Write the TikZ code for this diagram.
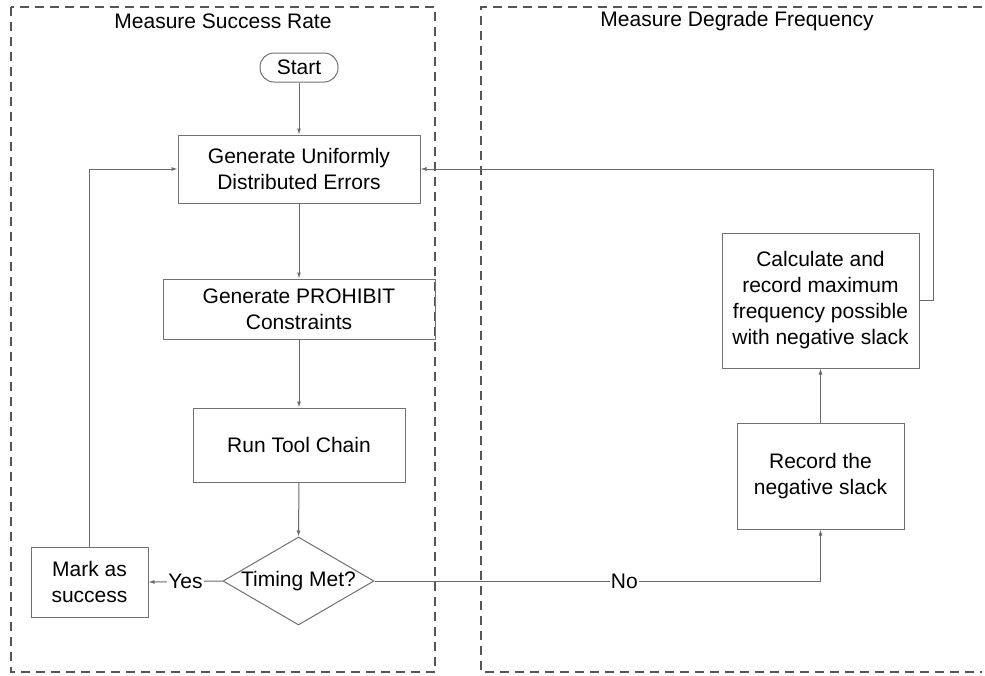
\documentclass[tikz,border=0pt]{standalone}
\usepackage{fontspec}
\setmainfont{Liberation Sans}
\usetikzlibrary{arrows.meta,shapes.geometric}
\definecolor{boxline}{HTML}{707070}
\definecolor{wire}{HTML}{6A6A6A}
\definecolor{frame}{HTML}{555555}
\begin{document}
\begin{tikzpicture}[x=1pt,y=-1pt,
  every node/.style={font=\fontsize{21}{26}\selectfont, text=black},
  procbox/.style={draw=boxline, line width=1pt, rectangle, inner sep=0pt, align=center},
  termbox/.style={draw=boxline, line width=1pt, rectangle, rounded corners=14pt, inner sep=0pt, align=center},
  decision/.style={draw=boxline, line width=1pt, diamond, aspect=1.72, inner sep=0pt, align=center},
  flow/.style={draw=wire, line width=1pt, -{Latex[length=6pt,width=4pt]}},
  lane/.style={draw=frame, line width=1.4pt, dash pattern=on 9pt off 6pt},
  flowlabel/.style={fill=white, inner sep=1pt}
]
\useasboundingbox (0,0) rectangle (985,675);

% swim lanes
\draw[lane] (11,7) rectangle (435,672);
\draw[lane] (982,7) -- (481,7) -- (481,672) -- (982,672);
\node (titleL) at (223,21) {Measure Success Rate};
\node (titleR) at (737,21) {Measure Degrade Frequency};

% process steps
\node[termbox, minimum width=78pt, minimum height=29pt] (start) at (299,67.5) {Start};
\node[procbox, minimum width=242pt, minimum height=68pt] (gen) at (299,169) {Generate Uniformly\\Distributed Errors};
\node[procbox, minimum width=272pt, minimum height=60pt] (prohib) at (299,309) {Generate PROHIBIT\\Constraints};
\node[procbox, minimum width=212pt, minimum height=74pt] (run) at (299,445) {Run Tool Chain};
\node[decision, minimum width=151pt, minimum height=88pt] (timing) at (298.5,581) {Timing Met?};
\node[procbox, minimum width=117pt, minimum height=70pt] (mark) at (89.5,582) {Mark as\\success};
\node[procbox, minimum width=167pt, minimum height=106pt] (record) at (820.5,476) {Record the\\negative slack};
\node[procbox, minimum width=197pt, minimum height=135pt] (calc) at (820.5,300.5) {Calculate and\\record maximum\\frequency possible\\with negative slack};

% connectors
\draw[flow] (start.south) -- (gen.north);
\draw[flow] (gen.south) -- (prohib.north);
\draw[flow] (prohib.south) -- (run.north);
\draw[flow] (run.south) -- (timing.north);
\draw[flow] (timing.west) -- node[flowlabel] {Yes} (mark.east);
\draw[flow] (mark.north) |- (gen.west);
\draw[flow] (timing.east) -| node[flowlabel, pos=0.28] {No} (record.south);
\draw[flow] (record.north) -- (calc.south);
\draw[flow] (calc.east) -- ++(14,0) |- (gen.east);
\end{tikzpicture}
\end{document}
